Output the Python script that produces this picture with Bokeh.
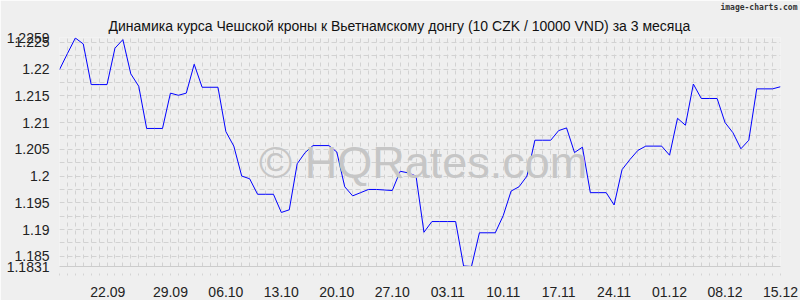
from bokeh.plotting import figure
from bokeh.models import FixedTicker, Label, Range1d, Title
from bokeh.embed import file_html
from bokeh.resources import INLINE

# Daily values, 15.09 .. 15.12 (10 CZK / 10000 VND)
values = [
    1.2199, 1.2229, 1.2258, 1.2247, 1.2171, 1.2171, 1.2171, 1.2239, 1.2255, 1.2191,
    1.2168, 1.2089, 1.2089, 1.2089, 1.2155, 1.2151, 1.2155, 1.2209, 1.2166, 1.2166,
    1.2166, 1.2083, 1.2056, 1.2000, 1.1995, 1.1966, 1.1966, 1.1966, 1.1932, 1.1937,
    1.2023, 1.2044, 1.2057, 1.2057, 1.2057, 1.2045, 1.1980, 1.1963, 1.1969, 1.1975,
    1.1975, 1.1974, 1.1973, 1.2009, 1.2006, 1.2000, 1.1895, 1.1915, 1.1915, 1.1915,
    1.1915, 1.1832, 1.1831, 1.1894, 1.1894, 1.1894, 1.1926, 1.1972, 1.1980, 1.2000,
    1.2067, 1.2067, 1.2067, 1.2085, 1.2090, 1.2044, 1.2054, 1.1969, 1.1969, 1.1969,
    1.1946, 1.2012, 1.2031, 1.2048, 1.2056, 1.2056, 1.2056, 1.2039, 1.2108, 1.2095,
    1.2172, 1.2145, 1.2145, 1.2145, 1.2100, 1.2081, 1.2051, 1.2067, 1.2163, 1.2163,
    1.2163, 1.2167,
]
days = list(range(len(values)))

x_tick_pos = [6.1, 14, 21, 28, 35, 42, 49, 56, 63, 70, 77, 84, 91]
x_tick_labels = ["22.09", "29.09", "06.10", "13.10", "20.10", "27.10", "03.11",
                 "10.11", "17.11", "24.11", "01.12", "08.12", "15.12"]

y_ticks = [1.1831, 1.185, 1.19, 1.195, 1.2, 1.205, 1.21, 1.215, 1.22, 1.225, 1.2259]
y_tick_labels = ["1.1831", "1.185", "1.19", "1.195", "1.2", "1.205", "1.21",
                 "1.215", "1.22", "1.225", "1.2259"]

y_min, y_max = 1.1831, 1.2259

title_text = "Динамика курса Чешской кроны к Вьетнамскому донгу (10 CZK / 10000 VND) за 3 месяца"

BG = "#efefef"
GRID = "#d2d2d2"
FONT = "Liberation Sans"

p = figure(width=800, height=300, output_backend="svg", toolbar_location=None,
           x_range=Range1d(0, len(values) - 1), y_range=Range1d(y_min, y_max),
           min_border_left=59, min_border_right=20, min_border_top=36,
           min_border_bottom=34)
p.background_fill_color = BG
p.border_fill_color = BG
p.outline_line_color = None

# titles
main_title = Title(text=title_text, align="left", offset=49, text_font=FONT,
                   text_font_size="14px", text_font_style="normal",
                   text_color="#111111", standoff=8)
mark_title = Title(text="image-charts.com", align="right", offset=-17,
                   text_font="DejaVu Sans Mono", text_font_style="bold",
                   text_font_size="8px", text_color="#333333", standoff=0)
p.title = None
p.above = [main_title, mark_title]

# grids
p.xgrid.ticker = FixedTicker(ticks=days)
p.xgrid.grid_line_color = GRID
p.xgrid.grid_line_dash = "4 4"
ygrid_ticks = [y_min] + [round(1.185 + 0.0025 * k, 4) for k in range(17)] + [y_max]
p.ygrid.ticker = FixedTicker(ticks=ygrid_ticks)
p.ygrid.grid_line_color = GRID
p.ygrid.grid_line_dash = "5 3"

# x axis
xa = p.xaxis[0]
xa.ticker = FixedTicker(ticks=x_tick_pos, minor_ticks=days)
xa.major_label_overrides = {t: l for t, l in zip(x_tick_pos, x_tick_labels)}
xa.axis_line_color = "#cccccc"
xa.major_tick_line_color = None
xa.major_tick_out = 0
xa.major_tick_in = 0
xa.minor_tick_line_color = "#d4d4d4"
xa.minor_tick_in = -7
xa.minor_tick_out = 9
xa.major_label_standoff = 11
xa.major_label_text_font = FONT
xa.major_label_text_font_size = "14px"
xa.major_label_text_color = "#222222"

# y axis
ya = p.yaxis[0]
ya.ticker = FixedTicker(ticks=y_ticks)
ya.major_label_overrides = {t: l for t, l in zip(y_ticks, y_tick_labels)}
ya.axis_line_color = None
ya.major_tick_line_color = None
ya.minor_tick_line_color = None
ya.major_tick_out = 0
ya.major_tick_in = 0
ya.major_label_standoff = 10
ya.major_label_text_font = FONT
ya.major_label_text_font_size = "14px"
ya.major_label_text_color = "#222222"

# watermark
p.add_layout(Label(x=45.9, y=1.2025, text="© HQRates.com", text_align="center",
                   text_baseline="alphabetic", text_font=FONT,
                   text_font_size="45px", text_color="#c6c6c6"))

# data line
p.line(days, values, line_color="#0000ff", line_width=1)

open("out.html", "w").write(file_html(p, INLINE))
